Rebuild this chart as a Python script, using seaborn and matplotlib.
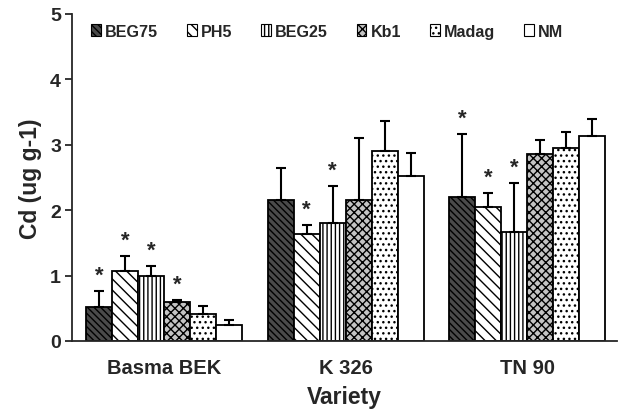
import numpy as np
import pandas as pd
import matplotlib
matplotlib.use("Agg")
import matplotlib.pyplot as plt
from matplotlib.patches import Patch
import seaborn as sns

varieties = ["Basma BEK", "K 326", "TN 90"]
treatments = ["BEG75", "PH5", "BEG25", "Kb1", "Madag", "NM"]

beg75 = [0.52, 2.15, 2.20]
ph5 = [1.07, 1.63, 2.05]
beg25 = [0.99, 1.80, 1.66]
kb1 = [0.60, 2.15, 2.86]
madag = [0.41, 2.91, 2.95]
nm = [0.24, 2.52, 3.13]

beg75_err = [0.24, 0.49, 0.97]
ph5_err = [0.23, 0.15, 0.21]
beg25_err = [0.16, 0.57, 0.75]
kb1_err = [0.02, 0.95, 0.21]
madag_err = [0.12, 0.45, 0.25]
nm_err = [0.08, 0.35, 0.26]

# significance markers (True = '*')
beg75_sig = [True, False, True]
ph5_sig = [True, True, True]
beg25_sig = [True, True, True]
kb1_sig = [True, False, False]
madag_sig = [False, False, False]
nm_sig = [False, False, False]

values = [beg75, ph5, beg25, kb1, madag, nm]
errors = [beg75_err, ph5_err, beg25_err, kb1_err, madag_err, nm_err]
sigs = [beg75_sig, ph5_sig, beg25_sig, kb1_sig, madag_sig, nm_sig]

rows = []
for t, vals in zip(treatments, values):
    for v, val in zip(varieties, vals):
        rows.append({"Variety": v, "Treatment": t, "Cd": val})
df = pd.DataFrame(rows)

sns.set_style("ticks")
plt.rcParams["font.family"] = ["Liberation Sans", "DejaVu Sans"]
plt.rcParams["font.weight"] = "bold"
plt.rcParams["hatch.linewidth"] = 1.0

styles = {
    "BEG75": dict(fc="#4a4a4a", hatch="\\\\\\\\\\"),
    "PH5": dict(fc="white", hatch="\\\\\\"),
    "BEG25": dict(fc="white", hatch="||||"),
    "Kb1": dict(fc="#c4c4c4", hatch="xxxx"),
    "Madag": dict(fc="white", hatch="..."),
    "NM": dict(fc="white", hatch=""),
}

fig = plt.figure(figsize=(6.21, 4.14), dpi=100)
ax = fig.add_axes([0.116, 0.174, 0.878, 0.79])

sns.barplot(data=df, x="Variety", y="Cd", hue="Treatment", order=varieties,
            hue_order=treatments, width=0.86, errorbar=None, legend=False,
            ax=ax, edgecolor="black", linewidth=1.3, saturation=1)

for t, cont, errs, sg in zip(treatments, ax.containers, errors, sigs):
    st = styles[t]
    xs, tops = [], []
    for bar in cont:
        bar.set_facecolor(st["fc"])
        bar.set_hatch(st["hatch"])
        bar.set_edgecolor("black")
        xs.append(bar.get_x() + bar.get_width() / 2)
        tops.append(bar.get_height())
    xs = np.array(xs)
    tops = np.array(tops)
    errs = np.array(errs)
    ax.errorbar(xs, tops, yerr=[np.zeros_like(errs), errs], fmt="none",
                ecolor="black", elinewidth=1.5, capsize=3.8, capthick=1.5, zorder=3)
    for x, top, e, s in zip(xs, tops, errs, sg):
        if s:
            ax.text(x, top + e + 0.08, "*", ha="center", va="bottom",
                    fontsize=16, fontweight="bold")

ax.set_xlim(-0.507, 2.496)
ax.set_ylim(0, 5)
ax.set_yticks([0, 1, 2, 3, 4, 5])
ax.tick_params(axis="y", direction="out", length=5, width=1.3, labelsize=14, pad=3)
ax.tick_params(axis="x", length=0, labelsize=14.5, pad=12)
for lab in ax.get_xticklabels() + ax.get_yticklabels():
    lab.set_fontweight("bold")
ax.set_xlabel("Variety", fontsize=16.5, fontweight="bold", labelpad=6)
ax.set_ylabel("Cd (ug g-1)", fontsize=16.5, fontweight="bold", labelpad=6)
sns.despine(ax=ax)
ax.spines["left"].set_linewidth(1.3)
ax.spines["bottom"].set_linewidth(1.3)

handles = [Patch(facecolor=styles[t]["fc"], hatch=styles[t]["hatch"],
                 edgecolor="black", linewidth=0.8) for t in treatments]
leg = ax.legend(handles, treatments, loc="upper left", bbox_to_anchor=(0.035, 0.97),
                ncol=6, frameon=False, handlelength=0.6, borderpad=0,
                borderaxespad=0, handleheight=0.7, handletextpad=0.25,
                columnspacing=1.8, prop={"weight": "bold", "size": 11.6})

fig.savefig("out.png", dpi=100)
